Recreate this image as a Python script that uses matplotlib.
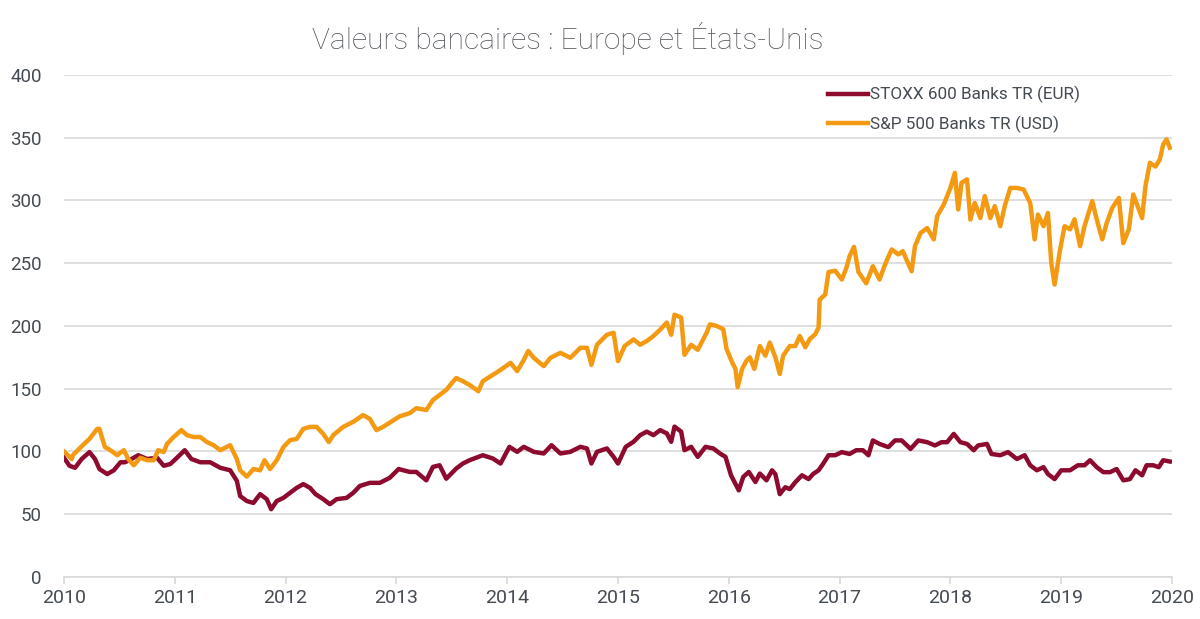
import numpy as np
import matplotlib.pyplot as plt

# Indices bancaires base 100 au 1er janvier 2010
stoxx_t = [2010.00, 2010.05, 2010.10, 2010.16, 2010.23, 2010.28, 2010.32, 2010.39, 2010.45,
           2010.51, 2010.55, 2010.61, 2010.67, 2010.75, 2010.84, 2010.90, 2010.96, 2011.02,
           2011.09, 2011.15, 2011.23, 2011.32, 2011.41, 2011.50, 2011.56, 2011.59, 2011.65,
           2011.71, 2011.77, 2011.83, 2011.87, 2011.92, 2011.98, 2012.04, 2012.10, 2012.16,
           2012.22, 2012.27, 2012.34, 2012.40, 2012.46, 2012.55, 2012.61, 2012.67, 2012.76,
           2012.85, 2012.94, 2013.02, 2013.12, 2013.18, 2013.27, 2013.33, 2013.39, 2013.45,
           2013.54, 2013.60, 2013.66, 2013.74, 2013.78, 2013.87, 2013.94, 2014.02, 2014.09,
           2014.15, 2014.24, 2014.33, 2014.40, 2014.48, 2014.57, 2014.66, 2014.72, 2014.76,
           2014.81, 2014.90, 2014.96, 2015.00, 2015.07, 2015.14, 2015.20, 2015.26, 2015.32,
           2015.38, 2015.44, 2015.48, 2015.51, 2015.57, 2015.60, 2015.66, 2015.72, 2015.79,
           2015.86, 2015.92, 2015.97, 2016.02, 2016.09, 2016.13, 2016.18, 2016.24, 2016.28,
           2016.34, 2016.39, 2016.42, 2016.46, 2016.51, 2016.55, 2016.60, 2016.66, 2016.72,
           2016.76, 2016.81, 2016.85, 2016.90, 2016.96, 2017.02, 2017.09, 2017.15, 2017.21,
           2017.26, 2017.30, 2017.36, 2017.44, 2017.50, 2017.56, 2017.64, 2017.71, 2017.79,
           2017.86, 2017.92, 2017.97, 2018.03, 2018.09, 2018.15, 2018.21, 2018.25, 2018.33,
           2018.37, 2018.45, 2018.52, 2018.60, 2018.67, 2018.72, 2018.78, 2018.84, 2018.88,
           2018.94, 2019.00, 2019.08, 2019.15, 2019.21, 2019.26, 2019.32, 2019.38, 2019.44,
           2019.50, 2019.56, 2019.62, 2019.67, 2019.73, 2019.77, 2019.83, 2019.88, 2019.92,
           2019.98]
stoxx_v = [95, 88.6, 87, 94, 99.5, 94, 86, 82, 85,
           91.4, 91.4, 94, 97, 94, 95, 88.6, 90, 95,
           101, 94, 91.4, 91.4, 87, 85, 76.6, 64.5, 60.5,
           59, 66, 62, 54, 60.5, 63, 67, 71, 74,
           71, 66, 62, 58, 62, 63, 67, 72.5, 75,
           75, 79, 86, 83.7, 83.7, 77, 87.7, 89, 78.3,
           86.4, 90.4, 93, 95.7, 97, 94.4, 90.4, 103.7, 99.7,
           103.7, 99.7, 98.4, 105, 98.4, 99.7, 103.7, 102.4, 90.4,
           99.7, 102.4, 95.7, 90.4, 103.7, 107.7, 113, 115.8, 113,
           117, 114.4, 107.7, 119.8, 115.8, 101, 103.7, 95.7, 103.7,
           102.4, 98.4, 95.7, 81, 69, 79.7, 83.7, 75.7, 82.4,
           77, 85, 82, 66, 71.5, 70, 75.5, 81, 78,
           82, 85, 90, 97, 97, 99.5, 98, 101, 101,
           97, 108.8, 106, 103.5, 108.8, 108.8, 102, 108.8, 107.4,
           104.8, 107.4, 107.4, 114, 107.4, 106, 101, 104.8, 106,
           98, 97, 99.5, 94, 97, 89, 85, 87.5, 82,
           78, 85, 85, 89, 89, 93, 87.5, 83.5, 83.5,
           86, 77, 78, 85, 81, 89, 89, 87.5, 93,
           92]

sp_t = [2010.00, 2010.07, 2010.08, 2010.17, 2010.23, 2010.30, 2010.32, 2010.34, 2010.37,
        2010.42, 2010.48, 2010.54, 2010.58, 2010.63, 2010.69, 2010.75, 2010.81, 2010.85,
        2010.90, 2010.93, 2010.99, 2011.06, 2011.11, 2011.17, 2011.23, 2011.29, 2011.35,
        2011.41, 2011.50, 2011.56, 2011.59, 2011.65, 2011.71, 2011.77, 2011.81, 2011.86,
        2011.92, 2011.98, 2012.04, 2012.10, 2012.16, 2012.22, 2012.28, 2012.34, 2012.39,
        2012.43, 2012.52, 2012.61, 2012.70, 2012.76, 2012.82, 2012.88, 2012.94, 2013.03,
        2013.12, 2013.18, 2013.27, 2013.33, 2013.39, 2013.45, 2013.50, 2013.54, 2013.60,
        2013.66, 2013.74, 2013.78, 2013.87, 2013.94, 2014.03, 2014.09, 2014.15, 2014.19,
        2014.24, 2014.33, 2014.39, 2014.48, 2014.57, 2014.66, 2014.72, 2014.76, 2014.81,
        2014.90, 2014.96, 2015.00, 2015.06, 2015.14, 2015.20, 2015.26, 2015.32, 2015.38,
        2015.44, 2015.48, 2015.51, 2015.57, 2015.60, 2015.66, 2015.72, 2015.80, 2015.83,
        2015.89, 2015.95, 2015.98, 2016.03, 2016.06, 2016.08, 2016.12, 2016.16, 2016.19,
        2016.23, 2016.28, 2016.33, 2016.37, 2016.42, 2016.46, 2016.49, 2016.55, 2016.60,
        2016.64, 2016.69, 2016.73, 2016.78, 2016.81, 2016.82, 2016.87, 2016.90, 2016.96,
        2017.02, 2017.06, 2017.09, 2017.13, 2017.17, 2017.24, 2017.30, 2017.36, 2017.41,
        2017.47, 2017.53, 2017.57, 2017.65, 2017.68, 2017.73, 2017.79, 2017.85, 2017.88,
        2017.94, 2018.00, 2018.04, 2018.07, 2018.10, 2018.15, 2018.18, 2018.22, 2018.27,
        2018.31, 2018.36, 2018.40, 2018.45, 2018.49, 2018.54, 2018.60, 2018.66, 2018.72,
        2018.76, 2018.79, 2018.84, 2018.88, 2018.91, 2018.94, 2018.99, 2019.03, 2019.08,
        2019.12, 2019.17, 2019.21, 2019.28, 2019.32, 2019.37, 2019.41, 2019.46, 2019.52,
        2019.56, 2019.61, 2019.65, 2019.73, 2019.76, 2019.80, 2019.85, 2019.89, 2019.92,
        2019.95, 2019.98]
sp_v = [100, 94, 97, 105, 110, 118, 118, 112, 103.5,
        101, 97, 101, 94, 89, 95, 93, 93, 101,
        99.5, 106, 111.5, 117, 113, 111.5, 111.5, 107.5, 105,
        101, 105, 94, 85, 80, 86, 85, 93, 86,
        93, 103.5, 109, 110, 118, 119.6, 119.6, 114, 107.5,
        113, 119.6, 123.6, 129, 126, 117, 119.6, 123, 128,
        130.5, 134.5, 133, 141, 145, 149, 154.5, 158.5, 156,
        153, 148, 156, 161, 165, 170.6, 164, 173, 180,
        174.6, 168, 174.6, 178.6, 174.6, 182.6, 182.6, 169, 185,
        193, 194.6, 172, 184, 189.3, 185, 188, 192, 197,
        202.7, 193, 209, 206.7, 177, 185, 181, 194.7, 201.3,
        200, 197.4, 181.6, 171, 165.8, 151.3, 165.8, 172.4, 175,
        165.8, 184, 176.3, 186.8, 175, 161.8, 176.3, 184, 184,
        192, 183, 189.5, 193.4, 198.7, 221, 225, 243, 244,
        237, 246, 255.6, 263, 243, 234, 247.6, 237, 249,
        261, 257, 259.6, 243.6, 263.6, 274, 278, 269, 287.5,
        296.8, 310, 322, 292.8, 314, 316.8, 284.8, 298, 286,
        303.5, 286, 295.5, 279.5, 295.5, 310, 310, 308.8, 298,
        269, 288.8, 279.5, 290, 250.3, 233, 261, 279.5, 277,
        285, 263.6, 279.5, 299.5, 285, 269, 282, 294, 302,
        266, 277, 304.8, 286, 311.4, 330, 327, 332.7, 344.7,
        348.7, 342]

years = list(range(2010, 2021))
yticks = list(range(0, 401, 50))

RED = '#8C0B2F'
ORANGE = '#F39A12'
GRID = '#D9D9D9'
TXT = '#454B52'

plt.rcParams['font.family'] = ['Roboto', 'DejaVu Sans']

fig = plt.figure(figsize=(12, 6.19), dpi=100)
ax = fig.add_axes([0.0533, 0.0679, 0.9234, 0.8110])

ax.plot(stoxx_t, stoxx_v, color=RED, lw=3.2, solid_joinstyle='round',
        label='STOXX 600 Banks TR (EUR)', zorder=3)
ax.plot(sp_t, sp_v, color=ORANGE, lw=3.2, solid_joinstyle='round',
        label='S&P 500 Banks TR (USD)', zorder=3)

ax.set_xlim(2010, 2020)
ax.set_ylim(0, 400)
ax.set_xticks(years)
ax.set_xticklabels([str(y) for y in years])
ax.set_yticks(yticks)

ax.grid(axis='y', color=GRID, lw=1.2)
ax.set_axisbelow(True)
for s in ['top', 'right', 'left']:
    ax.spines[s].set_visible(False)
ax.spines['bottom'].set_color(GRID)
ax.spines['bottom'].set_linewidth(1.2)
ax.tick_params(axis='x', length=5, width=1.2, color=GRID, labelsize=14,
               labelcolor=TXT, pad=4)
ax.tick_params(axis='y', length=0, labelsize=13.5, labelcolor=TXT, pad=16)

fig.text(0.473, 0.938, 'Valeurs bancaires : Europe et États-Unis', ha='center',
         va='center', fontsize=21.5, color='#50555B', fontweight='light')

leg = ax.legend(loc='upper left', bbox_to_anchor=(0.684, 0.872),
                bbox_transform=fig.transFigure, frameon=False, fontsize=12.3,
                handlelength=2.35, handletextpad=0.12, labelspacing=0.7,
                borderaxespad=0)
for t in leg.get_texts():
    t.set_color(TXT)

fig.savefig('out.png', dpi=100, facecolor='white')
